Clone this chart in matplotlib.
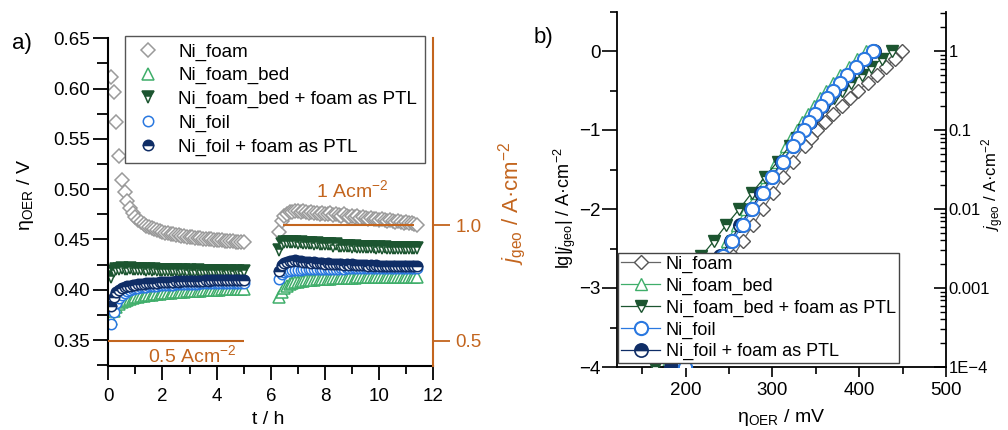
import matplotlib
matplotlib.use("Agg")
import matplotlib.pyplot as plt
import numpy as np
from matplotlib.ticker import FixedLocator, FixedFormatter, MultipleLocator, LogLocator, NullFormatter

plt.rcParams["font.family"] = ["Liberation Sans", "DejaVu Sans"]
plt.rcParams["mathtext.fontset"] = "custom"
plt.rcParams["mathtext.rm"] = "Liberation Sans"
plt.rcParams["mathtext.it"] = "Liberation Sans:italic"
plt.rcParams["mathtext.bf"] = "Liberation Sans:bold"

# ---- panel a: chronopotentiometry, two current steps ----
t_seg1 = np.arange(1, 51) / 10          # 0.1 ... 5.0 h
t_seg2 = np.arange(63, 115) / 10        # 6.3 ... 11.4 h

foam_1 = [0.612, 0.597, 0.567, 0.533, 0.509, 0.497, 0.488, 0.481, 0.476, 0.472,
          0.469, 0.467, 0.465, 0.463, 0.462, 0.461, 0.460, 0.459, 0.458, 0.457,
          0.456, 0.456, 0.455, 0.455, 0.454, 0.454, 0.453, 0.453, 0.452, 0.452,
          0.452, 0.451, 0.451, 0.451, 0.450, 0.450, 0.450, 0.450, 0.449, 0.449,
          0.449, 0.449, 0.448, 0.448, 0.448, 0.448, 0.447, 0.447, 0.447, 0.447]
bed_1 = [0.371, 0.379, 0.383, 0.386, 0.388, 0.389, 0.390, 0.391, 0.392, 0.393,
         0.393, 0.394, 0.394, 0.395, 0.395, 0.395, 0.396, 0.396, 0.396, 0.397,
         0.397, 0.397, 0.397, 0.398, 0.398, 0.398, 0.398, 0.398, 0.399, 0.399,
         0.399, 0.399, 0.399, 0.399, 0.400, 0.400, 0.400, 0.400, 0.400, 0.400,
         0.400, 0.401, 0.401, 0.401, 0.401, 0.401, 0.401, 0.401, 0.401, 0.401]
bedptl_1 = [0.413, 0.419, 0.421, 0.421, 0.422, 0.421, 0.421, 0.422, 0.421, 0.421,
            0.421, 0.421, 0.421, 0.420, 0.421, 0.420, 0.421, 0.420, 0.420, 0.420,
            0.420, 0.420, 0.420, 0.420, 0.420, 0.419, 0.420, 0.420, 0.419, 0.420,
            0.419, 0.419, 0.420, 0.419, 0.419, 0.419, 0.419, 0.419, 0.419, 0.419,
            0.419, 0.419, 0.418, 0.419, 0.419, 0.418, 0.419, 0.419, 0.418, 0.419]
foil_1 = [0.366, 0.378, 0.387, 0.392, 0.395, 0.397, 0.399, 0.400, 0.401, 0.402,
          0.402, 0.403, 0.403, 0.403, 0.404, 0.404, 0.404, 0.404, 0.405, 0.405,
          0.405, 0.405, 0.405, 0.405, 0.406, 0.406, 0.406, 0.406, 0.406, 0.406,
          0.406, 0.406, 0.406, 0.407, 0.407, 0.407, 0.407, 0.407, 0.407, 0.407,
          0.407, 0.407, 0.407, 0.407, 0.407, 0.407, 0.407, 0.407, 0.407, 0.407]
foilptl_1 = [0.384, 0.393, 0.398, 0.400, 0.402, 0.403, 0.404, 0.404, 0.405, 0.405,
             0.406, 0.406, 0.406, 0.407, 0.407, 0.407, 0.407, 0.407, 0.408, 0.408,
             0.408, 0.408, 0.408, 0.408, 0.409, 0.408, 0.409, 0.409, 0.409, 0.409,
             0.409, 0.409, 0.409, 0.409, 0.409, 0.410, 0.409, 0.410, 0.410, 0.410,
             0.410, 0.410, 0.410, 0.410, 0.410, 0.410, 0.410, 0.410, 0.410, 0.410]

foam_2 = [0.457, 0.468, 0.473, 0.475, 0.477, 0.477, 0.478, 0.478, 0.477, 0.478,
          0.477, 0.476, 0.477, 0.476, 0.476, 0.475, 0.476, 0.475, 0.475, 0.476,
          0.474, 0.475, 0.474, 0.473, 0.475, 0.473, 0.472, 0.473, 0.472, 0.473,
          0.471, 0.472, 0.471, 0.470, 0.471, 0.470, 0.470, 0.469, 0.470, 0.469,
          0.468, 0.469, 0.468, 0.467, 0.468, 0.467, 0.466, 0.467, 0.466, 0.466,
          0.465, 0.464]
bed_2 = [0.393, 0.398, 0.402, 0.404, 0.406, 0.407, 0.408, 0.408, 0.409, 0.409,
         0.410, 0.410, 0.410, 0.410, 0.411, 0.411, 0.411, 0.411, 0.411, 0.411,
         0.412, 0.412, 0.412, 0.412, 0.412, 0.412, 0.412, 0.412, 0.412, 0.413,
         0.413, 0.413, 0.413, 0.413, 0.413, 0.413, 0.413, 0.413, 0.413, 0.413,
         0.413, 0.413, 0.413, 0.413, 0.413, 0.413, 0.413, 0.413, 0.413, 0.413,
         0.413, 0.413]
bedptl_2 = [0.440, 0.445, 0.447, 0.447, 0.447, 0.447, 0.447, 0.446, 0.447, 0.446,
            0.446, 0.446, 0.446, 0.445, 0.446, 0.445, 0.445, 0.445, 0.445, 0.445,
            0.444, 0.445, 0.444, 0.444, 0.444, 0.444, 0.444, 0.443, 0.444, 0.443,
            0.443, 0.443, 0.443, 0.443, 0.443, 0.443, 0.442, 0.443, 0.442, 0.443,
            0.442, 0.442, 0.442, 0.442, 0.442, 0.442, 0.442, 0.442, 0.442, 0.442,
            0.442, 0.442]
foil_2 = [0.411, 0.416, 0.418, 0.419, 0.419, 0.420, 0.420, 0.420, 0.420, 0.421,
          0.421, 0.421, 0.421, 0.421, 0.421, 0.421, 0.421, 0.421, 0.421, 0.421,
          0.421, 0.421, 0.421, 0.422, 0.421, 0.422, 0.422, 0.422, 0.422, 0.422,
          0.422, 0.422, 0.422, 0.422, 0.422, 0.422, 0.422, 0.422, 0.422, 0.422,
          0.422, 0.422, 0.422, 0.422, 0.422, 0.422, 0.422, 0.422, 0.422, 0.422,
          0.422, 0.422]
foilptl_2 = [0.419, 0.425, 0.427, 0.428, 0.429, 0.429, 0.430, 0.429, 0.429, 0.428,
             0.428, 0.428, 0.427, 0.428, 0.427, 0.427, 0.427, 0.426, 0.427, 0.426,
             0.426, 0.426, 0.426, 0.426, 0.425, 0.426, 0.425, 0.426, 0.425, 0.425,
             0.425, 0.425, 0.425, 0.424, 0.425, 0.424, 0.425, 0.424, 0.424, 0.424,
             0.424, 0.424, 0.424, 0.424, 0.424, 0.424, 0.424, 0.424, 0.424, 0.424,
             0.424, 0.424]

# applied current density of the two steps (A cm-2) and their time spans (h)
j_steps = [0.5, 1.0]
step_spans = [(0.0, 5.0), (6.45, 11.3)]

# ---- panel b: Tafel data ----
lg_j = [0.0, -0.1, -0.2, -0.3, -0.4, -0.5, -0.6, -0.7, -0.8, -0.9, -1.0, -1.1, -1.2,
        -1.4, -1.6, -1.8, -2.0, -2.2, -2.4, -2.6, -2.8, -3.0, -3.2, -3.4, -3.6, -3.8, -4.0]
eta_foam = [449, 441, 431, 420, 410, 399, 389, 380, 370, 361, 351, 344, 337,
            324, 312, 301, 289, 278, 266, 255, 244, 234, 225, 216, 208, 200, 192]
eta_bed = [408, 398, 388, 378, 370, 362, 355, 348, 341, 334, 328, 322, 316,
           304, 293, 281, 270, 259, 248, 237, 226, 216, 207, 198, 190, 183, 176]
eta_bedptl = [438, 426, 414, 403, 391, 380, 371, 362, 353, 344, 336, 328, 320,
              306, 291, 276, 262, 247, 233, 218, 204, 193, 185, 178, 172, 168, 165]
eta_foil = [416, 406, 396, 386, 378, 370, 363, 356, 349, 342, 336, 330, 324,
            312, 300, 289, 277, 266, 254, 243, 237, 231, 225, 219, 213, 206, 199]
eta_foilptl = [417, 407, 397, 387, 379, 371, 364, 357, 350, 343, 336, 330, 324,
               311, 299, 287, 275, 263, 252, 240, 229, 219, 210, 202, 195, 189, 183]

labels = ["Ni_foam", "Ni_foam_bed", "Ni_foam_bed + foam as PTL", "Ni_foil", "Ni_foil + foam as PTL"]

ORANGE = "#c3651e"
GREY = "#9a9a9a"
GREEN = "#3fae6a"
DKGREEN = "#1c5530"
BLUE = "#2a78e0"
NAVY = "#0f2d66"

styles_a = [
    dict(marker="D", ms=7, mfc="white", mec=GREY, mew=1.1),
    dict(marker="^", ms=8, mfc="white", mec=GREEN, mew=1.1),
    dict(marker="v", ms=8, mfc=DKGREEN, mec=DKGREEN, mew=1.1, fillstyle="top", markerfacecoloralt="white"),
    dict(marker="o", ms=7.5, mfc="white", mec=BLUE, mew=1.1),
    dict(marker="o", ms=7.5, mfc=NAVY, mec=NAVY, mew=1.1, fillstyle="top", markerfacecoloralt="white"),
]

fig = plt.figure(figsize=(10.08, 4.30), dpi=100)
W, H = 1008, 430


def fx(px):
    return px / W


def fy(py):
    return 1 - py / H


# ================= panel a =================
ax = fig.add_axes([fx(108.3), fy(365.7), fx(433.3) - fx(108.3), fy(38.3) - fy(365.7)])
seg1 = [foam_1, bed_1, bedptl_1, foil_1, foilptl_1]
seg2 = [foam_2, bed_2, bedptl_2, foil_2, foilptl_2]
handles_a = []
for v1, v2, st, lab in zip(seg1, seg2, styles_a, labels):
    h, = ax.plot(t_seg1, v1, ls="none", label=lab, **st)
    ax.plot(t_seg2, v2, ls="none", **st)
    handles_a.append(h)

ax.set_xlim(0, 12)
ax.set_ylim(0.3245, 0.65)
ax.xaxis.set_major_locator(MultipleLocator(2))
ax.xaxis.set_minor_locator(MultipleLocator(1))
ax.set_yticks([0.35, 0.40, 0.45, 0.50, 0.55, 0.60, 0.65])
ax.set_yticklabels(["0.35", "0.40", "0.45", "0.50", "0.55", "0.60", "0.65"])
ax.yaxis.set_minor_locator(MultipleLocator(0.025))
ax.tick_params(axis="y", which="major", direction="out", length=11, width=1.3, labelsize=13.5, pad=2)
ax.tick_params(axis="y", which="minor", direction="out", length=8, width=1.3)
ax.tick_params(axis="x", which="major", direction="out", length=10, width=1.3, labelsize=13.5, pad=6)
ax.tick_params(axis="x", which="minor", direction="out", length=6, width=1.3)
for s in ["top", "right"]:
    ax.spines[s].set_visible(False)
for s in ["left", "bottom"]:
    ax.spines[s].set_linewidth(1.5)

axr = ax.twinx()
axr.set_ylim(0.3935, 1.805)
axr.set_yticks([0.5, 1.0])
axr.set_yticklabels(["0.5", "1.0"])
axr.tick_params(axis="y", direction="out", length=12, width=1.3, colors=ORANGE, labelsize=13.5, pad=4)
for s in ["top", "left", "bottom"]:
    axr.spines[s].set_visible(False)
axr.spines["right"].set_color(ORANGE)
axr.spines["right"].set_linewidth(1.5)
for jv, (t0, t1) in zip(j_steps, step_spans):
    axr.hlines(jv, t0, t1, color=ORANGE, lw=1.5)
axr.text(9.0, 1.15, "1 Acm$^{-2}$", color=ORANGE, fontsize=14, ha="center", va="center")
axr.text(3.1, 0.44, "0.5 Acm$^{-2}$", color=ORANGE, fontsize=14, ha="center", va="center")

fig.legend(handles=handles_a, loc="upper left", bbox_to_anchor=(fx(125), fy(36)), borderaxespad=0,
           fontsize=13.5, frameon=True, fancybox=False, edgecolor="#555555", framealpha=1,
           handlelength=1.6, handletextpad=0.85, borderpad=0.4, labelspacing=0.34)

fig.text(fx(26), fy(195), "η$_\\mathrm{OER}$ / V", rotation=90, ha="center", va="center", fontsize=14)
fig.text(fx(268), fy(420), "t / h", ha="center", va="center", fontsize=14)
fig.text(fx(512), fy(203), "$\\mathit{j}_\\mathrm{geo}$ / A·cm$^{-2}$", rotation=90, ha="center", va="center",
         fontsize=16, color=ORANGE)
fig.text(fx(22), fy(43), "a)", ha="center", va="center", fontsize=16)

# ================= panel b =================
axb = fig.add_axes([fx(617), fy(367), fx(946) - fx(617), fy(11.5) - fy(367)])
styles_b = [
    dict(color="#666666", lw=0.9, marker="D", ms=7.5, mfc="white", mec="#555555", mew=1.0, zorder=2),
    dict(color=GREEN, lw=0.9, marker="^", ms=8.5, mfc="white", mec=GREEN, mew=1.0, zorder=1),
    dict(color=DKGREEN, lw=0.9, marker="v", ms=8.5, mfc=DKGREEN, mec=DKGREEN, mew=1.0,
         fillstyle="top", markerfacecoloralt="white", zorder=3),
    dict(color=BLUE, lw=0.9, marker="o", ms=9.5, mfc="white", mec=BLUE, mew=1.5, zorder=5),
    dict(color=NAVY, lw=0.9, marker="o", ms=9.5, mfc=NAVY, mec=NAVY, mew=1.2,
         fillstyle="top", markerfacecoloralt="white", zorder=4),
]
etas = [eta_foam, eta_bed, eta_bedptl, eta_foil, eta_foilptl]
handles_b = []
for eta, st, lab in zip(etas, styles_b, labels):
    h, = axb.plot(eta, lg_j, label=lab, **st)
    handles_b.append(h)

axb.set_xlim(121, 500)
axb.set_ylim(-4, 0.5)
axb.set_xticks([200, 300, 400, 500])
axb.xaxis.set_minor_locator(MultipleLocator(50))
axb.set_yticks([-4, -3, -2, -1, 0])
axb.yaxis.set_minor_locator(MultipleLocator(0.5))
axb.tick_params(axis="both", which="major", direction="out", length=7, width=1.2, labelsize=13.5)
axb.tick_params(axis="y", which="major", length=11, pad=1)
axb.tick_params(axis="both", which="minor", direction="out", length=5, width=1.2)
axb.spines["top"].set_visible(False)
axb.spines["right"].set_visible(False)
for s in ["left", "bottom"]:
    axb.spines[s].set_linewidth(1.3)

axb2 = axb.twinx()
axb2.set_yscale("log")
axb2.set_ylim(1e-4, 10 ** 0.5)
axb2.yaxis.set_major_locator(FixedLocator([1e-4, 1e-3, 1e-2, 1e-1, 1]))
axb2.yaxis.set_major_formatter(FixedFormatter(["1E\u22124", "0.001", "0.01", "0.1", "1"]))
axb2.yaxis.set_minor_locator(LogLocator(base=10, subs=np.arange(2, 10)))
axb2.yaxis.set_minor_formatter(NullFormatter())
axb2.tick_params(axis="y", which="major", direction="in", length=9, width=1.2, labelsize=12, pad=2)
axb2.tick_params(axis="y", which="minor", direction="in", length=4.5, width=1.0)
for s in ["top", "left", "bottom"]:
    axb2.spines[s].set_visible(False)
axb2.spines["right"].set_linewidth(1.3)

fig.legend(handles=handles_b, loc="upper left", bbox_to_anchor=(fx(618), fy(253)), borderaxespad=0,
           fontsize=13, frameon=True, fancybox=False, edgecolor="#444444", framealpha=1,
           handlelength=2.2, handletextpad=0.3, borderpad=0.15, labelspacing=0.26)

fig.text(fx(565), fy(208), "lg|$\\mathit{j}_\\mathrm{geo}$| / A·cm$^{-2}$", rotation=90, ha="center",
         va="center", fontsize=13)
fig.text(fx(781), fy(418), "η$_\\mathrm{OER}$ / mV", ha="center", va="center", fontsize=14)
fig.text(fx(993), fy(185), "$\\mathit{j}_\\mathrm{geo}$ / A·cm$^{-2}$", rotation=90, ha="center", va="center",
         fontsize=12)
fig.text(fx(543), fy(37), "b)", ha="center", va="center", fontsize=16)

fig.savefig("out.png", dpi=100)
